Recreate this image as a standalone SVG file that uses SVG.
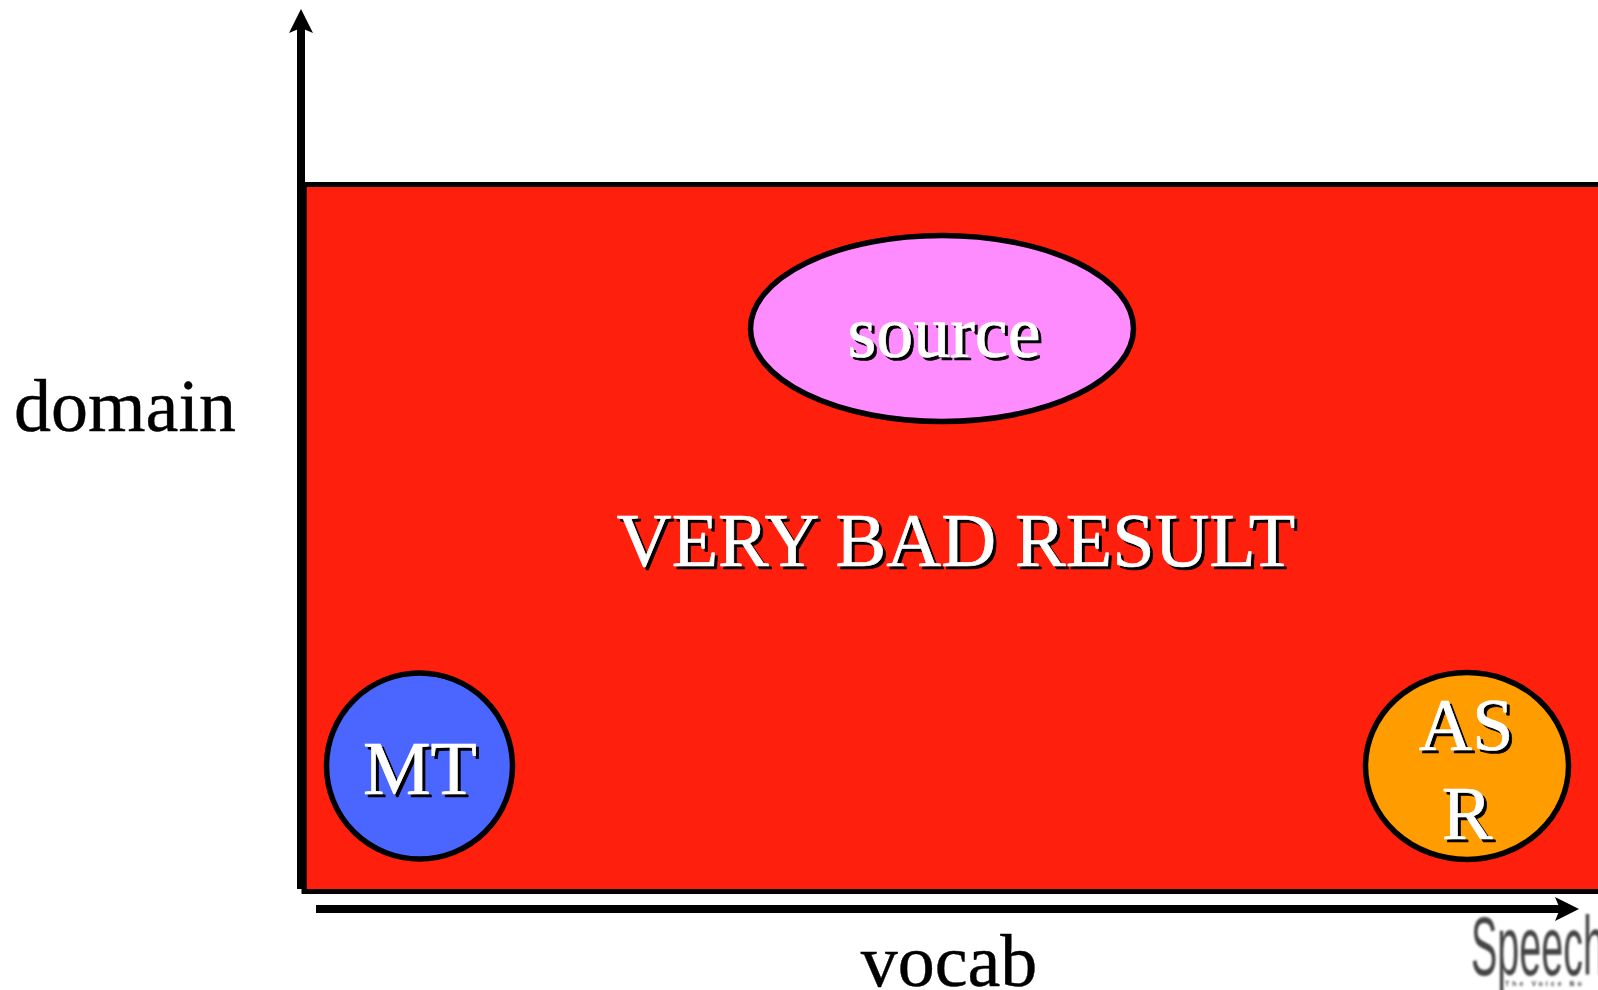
<svg xmlns="http://www.w3.org/2000/svg" width="1598" height="990" viewBox="0 0 1598 990">
<style>
text{font-family:"Liberation Serif","Times New Roman",serif;font-size:76px;text-anchor:middle}
.w{fill:#fff;stroke:#fff;stroke-width:.7}.s{fill:#000;stroke:#000;stroke-width:.7}
.n{stroke:#000;stroke-width:5.500}
.l{font-size:74px}
</style>
<defs>
<filter id="blur" x="-5%" y="-5%" width="110%" height="110%"><feGaussianBlur stdDeviation="0.8"/></filter>
<marker id="ah" markerUnits="userSpaceOnUse" markerWidth="26" markerHeight="26" refX="5" refY="12" orient="auto"><path d="M0 0L24 12L0 24L5 12Z" fill="#000"/></marker>
</defs>
<rect width="1598" height="990" fill="#fff"/>
<g id="region">
<rect x="304" y="184.500" width="1300" height="707" fill="#ff1f0d" stroke="#000" stroke-width="5"/>
<rect x="297" y="187" width="9.500" height="702" fill="#000"/>
<text x="959" y="569" class="s">VERY BAD RESULT</text>
<text x="956" y="566" class="w">VERY BAD RESULT</text>
</g>
<g id="connectors">
<line x1="301" y1="190" x2="301" y2="28" stroke="#000" stroke-width="8" marker-end="url(#ah)"/>
<line x1="316" y1="909" x2="1560" y2="909" stroke="#000" stroke-width="8" marker-end="url(#ah)"/>
</g>
<g id="source">
<ellipse cx="942" cy="328.500" rx="191.500" ry="93" fill="#ff8cff" class="n"/>
<text x="947" y="360" class="s l">source</text>
<text x="944" y="357" class="w l">source</text>
</g>
<g id="mt">
<circle cx="419.500" cy="766" r="93" fill="#4a66ff" class="n"/>
<text x="423" y="797" class="s">MT</text>
<text x="420" y="794" class="w">MT</text>
</g>
<g id="asr">
<ellipse cx="1467" cy="766" rx="101.500" ry="93.500" fill="#ff9c00" class="n"/>
<text x="1469" y="753" class="s l">AS</text>
<text x="1466" y="750" class="w l">AS</text>
<text x="1470" y="842" class="s">R</text>
<text x="1467" y="839" class="w">R</text>
</g>
<g id="labels">
<text x="125" y="431" class="l" stroke="#000" stroke-width=".4">domain</text>
<text x="949" y="986" class="l" stroke="#000" stroke-width=".4">vocab</text>
</g>
<g id="logo" filter="url(#blur)">
<text transform="translate(1471 975) scale(0.47 1)" style="font-family:'Liberation Sans',sans-serif;font-size:84px;text-anchor:start;fill:#444">Speech</text>
<text x="1505" y="986" style="font-family:'Liberation Sans',sans-serif;font-size:7px;font-weight:bold;letter-spacing:3px;text-anchor:start;fill:#444">The Voice Bo</text>
</g>
</svg>
